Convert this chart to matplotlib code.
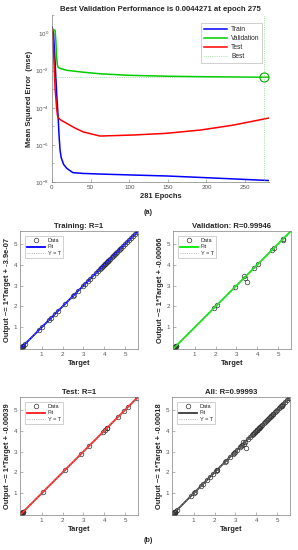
import matplotlib
matplotlib.use("Agg")
import matplotlib.pyplot as plt
import matplotlib.ticker as mticker
import numpy as np

plt.rcParams['font.family'] = ['Liberation Sans', 'DejaVu Sans']

# ---- (a) training performance ----
train_epochs = [0, 2, 4, 6, 8, 9, 10.4, 12, 15, 19, 27, 40, 60, 101, 150, 187, 230, 281]
train_mse = [2.3, 1.0, 3e-2, 6e-4, 3e-5, 4e-6, 5.2e-7, 2e-7, 9e-8, 5.5e-8, 3.2e-8, 2.9e-8,
             2.7e-8, 2.4e-8, 2.1e-8, 1.8e-8, 1.5e-8, 1.2e-8]

val_epochs = [0, 2, 4, 5, 6, 7, 8, 10, 19, 40, 62, 100, 150, 200, 250, 275, 281]
val_mse = [1.8, 1.6, 1.5, 0.4, 0.05, 2e-2, 1.5e-2, 1.35e-2, 1.05e-2, 8.3e-3, 6.8e-3, 5.6e-3,
           5.0e-3, 4.7e-3, 4.5e-3, 4.4271e-3, 4.43e-3]

test_epochs = [0, 1, 4, 6, 7, 8.2, 12, 19, 30, 40.5, 62, 105, 148, 192, 234, 281]
test_mse = [1.8, 1.2, 1e-3, 1e-4, 4e-5, 2.8e-5, 2.1e-5, 1.45e-5, 8e-6, 5e-6, 3e-6, 3.4e-6,
            4.2e-6, 6.3e-6, 1.15e-5, 2.8e-5]

best_epoch = 275
best_perf = 0.0044271
n_epochs = 281

# ---- (b) regression data ----
zero_t = [-0.02, 0.0, 0.01, 0.02, 0.03, 0.04, 0.05, 0.06, 0.08, 0.1, 0.12]
zero_y = [0.0, 0.01, 0.0, 0.03, 0.02, 0.05, 0.04, 0.07, 0.08, 0.09, 0.12]

train_t = zero_t + [0.18, 0.85, 1.0, 1.35, 1.45, 1.65, 1.8, 2.1, 2.5, 2.55, 2.75, 3.0, 3.1,
                    3.2, 3.3, 3.45, 3.6, 3.7, 3.8, 3.85, 3.9, 3.95, 4.0, 4.03, 4.06, 4.1,
                    4.13, 4.16, 4.2, 4.25, 4.3, 4.35, 4.4, 4.45, 4.5, 4.55, 4.6, 4.7, 4.75,
                    4.8, 4.9, 5.0, 5.1, 5.2, 5.3, 5.4, 5.5, 5.58]
train_y = zero_y + [0.18, 0.85, 1.0, 1.35, 1.45, 1.65, 1.8, 2.1, 2.5, 2.55, 2.75, 3.0, 3.1,
                    3.2, 3.3, 3.45, 3.6, 3.7, 3.8, 3.85, 3.9, 3.95, 4.0, 4.03, 4.06, 4.1,
                    4.13, 4.16, 4.2, 4.25, 4.3, 4.35, 4.4, 4.45, 4.5, 4.55, 4.6, 4.7, 4.75,
                    4.8, 4.9, 5.0, 5.1, 5.2, 5.3, 5.4, 5.5, 5.58]

val_t = zero_t + [1.92, 2.06, 2.92, 3.36, 3.4, 3.52, 3.85, 4.04, 4.7, 4.82, 5.22, 5.25]
val_y = zero_y + [1.93, 2.07, 2.91, 3.45, 3.35, 3.19, 3.85, 4.05, 4.72, 4.82, 5.17, 5.25]

test_t = zero_t + [1.05, 2.1, 2.87, 3.27, 3.93, 4.05, 4.12, 4.15, 4.65, 4.95, 5.12, 5.55]
test_y = zero_y + [1.05, 2.1, 2.87, 3.27, 3.93, 4.05, 4.12, 4.15, 4.65, 4.95, 5.12, 5.55]

panel_titles = ["Training: R=1", "Validation: R=0.99946", "Test: R=1", "All: R=0.99993"]
fit_intercepts = [-3.9e-07, -0.00066, -0.00039, -0.00018]
fit_labels = ["-3.9e-07", "-0.00066", "-0.00039", "-0.00018"]
fit_colors = ["#0000ff", "#00ee00", "#ff1a1a", "#3a3a3a"]

W, H = 298, 550
TXT = "#262626"
TICK = "#555555"


def add_axes_px(fig, left, top, right, bottom):
    return fig.add_axes([left / W, 1 - bottom / H, (right - left) / W, (bottom - top) / H])


def style_axis(ax):
    for s in ax.spines.values():
        s.set_color("#7f7f7f")
        s.set_linewidth(0.5)
    ax.tick_params(direction="in", length=2, width=0.4, colors="#7f7f7f",
                   labelcolor=TICK, labelsize=4.5, pad=2)


def plot_performance(fig):
    ax = add_axes_px(fig, 52, 15, 269, 182)
    ax.semilogy(train_epochs, train_mse, color="#0000ff", lw=1.1, label="Train")
    ax.semilogy(val_epochs, val_mse, color="#00cc00", lw=1.1, label="Validation")
    ax.semilogy(test_epochs, test_mse, color="#ff0000", lw=1.1, label="Test")
    ax.axhline(best_perf, color="#66cc66", lw=0.5, ls=":", label="Best")
    ax.axvline(best_epoch, color="#66cc66", lw=0.5, ls=":")
    ax.plot([best_epoch], [best_perf], "o", mfc="none", mec="#00aa00", ms=6.5, mew=0.8)

    ax.set_xlim(0, n_epochs)
    ax.set_ylim(1e-8, 1e1)
    ax.set_xticks(range(0, 251, 50))
    ax.yaxis.set_major_locator(mticker.FixedLocator([1e-8, 1e-6, 1e-4, 1e-2, 1e0]))
    ax.yaxis.set_minor_locator(mticker.FixedLocator([1e-7, 1e-5, 1e-3, 1e-1, 1e1]))
    ax.yaxis.set_minor_formatter(mticker.NullFormatter())
    style_axis(ax)
    ax.tick_params(which="minor", direction="in", length=1.5, width=0.4, colors="#7f7f7f")
    ax.spines["top"].set_visible(False)
    ax.spines["right"].set_visible(False)

    ax.set_title("Best Validation Performance is 0.0044271 at epoch 275",
                 fontsize=5.6, fontweight="bold", color=TXT, pad=3)
    ax.set_xlabel("281 Epochs", fontsize=5.4, fontweight="bold", color=TXT, labelpad=2)
    ax.set_ylabel("Mean Squared Error  (mse)", fontsize=5.4, fontweight="bold", color=TXT,
                  labelpad=2)
    leg = ax.legend(loc="upper right", fontsize=4.8, frameon=True, fancybox=False,
                    borderpad=0.4, labelspacing=0.3, handlelength=3.5, handletextpad=0.6,
                    bbox_to_anchor=(0.985, 0.97))
    leg.get_frame().set_edgecolor("#999999")
    leg.get_frame().set_linewidth(0.4)
    for t in leg.get_texts():
        t.set_color(TXT)
    fig.text(148 / W, 1 - 212 / H, "(a)", fontsize=5.2, fontweight="bold", color=TXT,
             ha="center", va="center")


def plot_regression(ax, t, y, title, intercept, label, color):
    lim = (-0.04, 5.62)
    xs = np.array(lim)
    ax.plot(t, y, "o", mfc="none", mec="#333333", ms=3.3, mew=0.5, label="Data")
    ax.plot(xs, 1.0 * xs + intercept, color=color, lw=1.3, label="Fit")
    ax.plot(xs, xs, ":", color="#999999", lw=0.6, label="Y = T")
    ax.set_xlim(lim)
    ax.set_ylim(lim)
    ax.set_xticks([1, 2, 3, 4, 5])
    ax.set_yticks([1, 2, 3, 4, 5])
    style_axis(ax)
    ax.set_title(title, fontsize=5.6, fontweight="bold", color=TXT, pad=2)
    ax.set_xlabel("Target", fontsize=5.4, fontweight="bold", color=TXT, labelpad=2)
    ax.set_ylabel("Output ~= 1*Target + " + label, fontsize=5.4, fontweight="bold",
                  color=TXT, labelpad=2)
    leg = ax.legend(loc="upper left", fontsize=4.0, frameon=True, fancybox=False,
                    borderpad=0.35, labelspacing=0.25, handlelength=3.2, handletextpad=0.5,
                    bbox_to_anchor=(0.02, 0.98))
    leg.get_frame().set_edgecolor("#999999")
    leg.get_frame().set_linewidth(0.4)
    for tx in leg.get_texts():
        tx.set_color(TXT)


def main():
    fig = plt.figure(figsize=(W / 100, H / 100), dpi=100)
    fig.patch.set_facecolor("white")
    plot_performance(fig)

    all_t = train_t + val_t + test_t
    all_y = train_y + val_y + test_y
    sets = [(train_t, train_y), (val_t, val_y), (test_t, test_y), (all_t, all_y)]
    boxes = [(20, 231, 138, 349), (173, 231, 291, 349),
             (20, 397, 138, 515), (172, 397, 290, 515)]
    for i, (t, y) in enumerate(sets):
        ax = add_axes_px(fig, *boxes[i])
        plot_regression(ax, t, y, panel_titles[i], fit_intercepts[i], fit_labels[i],
                        fit_colors[i])

    fig.text(148 / W, 1 - 541 / H, "(b)", fontsize=5.2, fontweight="bold", color=TXT,
             ha="center", va="center")
    fig.savefig("out.png", dpi=100)


if __name__ == "__main__":
    main()
